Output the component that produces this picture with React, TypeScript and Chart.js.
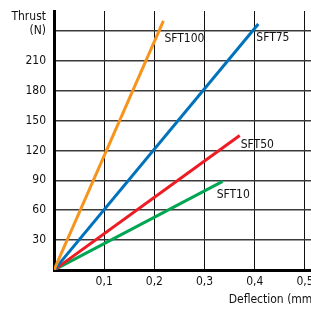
import React, { useEffect, useRef } from "react";
import { Chart, registerables } from "chart.js";

Chart.register(...registerables);

const seriesNames = ["SFT100", "SFT75", "SFT50", "SFT10"];
const seriesColors = ["#F7941D", "#0072BC", "#ED1C24", "#00A651"];
const startDeflection = [0, 0, 0, 0];
const startThrust = [0, 0, 0, 0];
const endDeflection = [0.218, 0.407, 0.37, 0.336];
const endThrust = [250, 247, 135, 89];
const xTickValues = [0, 0.1, 0.2, 0.3, 0.4, 0.5];
const yTickValues = [0, 30, 60, 90, 120, 150, 180, 210, 240];
const yTopLabel = "(N)";
const yTitle = "Thrust";
const xTitle = "Deflection (mm)";

const FONT = "'Liberation Sans Narrow', 'DejaVu Sans Condensed', sans-serif";

// label offsets relative to each line's end point (pixels)
const labelOffsets = [
  [1, 18],
  [-2, 14],
  [1, 9],
  [-6, 14],
];

const textPlugin = {
  id: "texts",
  afterDraw(chart: any) {
    const ctx = chart.ctx;
    const xs = chart.scales.x;
    const ys = chart.scales.y;
    ctx.save();
    ctx.fillStyle = "#111";
    ctx.font = `12px ${FONT}`;
    ctx.textBaseline = "middle";
    ctx.textAlign = "left";
    seriesNames.forEach((n, i) => {
      const px = xs.getPixelForValue(endDeflection[i]);
      const py = ys.getPixelForValue(endThrust[i]);
      ctx.fillText(n, px + labelOffsets[i][0], py + labelOffsets[i][1]);
    });
    ctx.textAlign = "right";
    ctx.fillText(yTitle, chart.chartArea.left - 8, ys.getPixelForValue(240) - 14);
    ctx.textAlign = "left";
    ctx.fillText(xTitle, xs.getPixelForValue(0.348), chart.chartArea.bottom + 30);
    ctx.restore();
  },
};

export default function App() {
  const ref = useRef<HTMLCanvasElement>(null);
  useEffect(() => {
    document.body.style.margin = "0";
    const chart = new Chart(ref.current!, {
      type: "scatter",
      data: {
        datasets: seriesNames.map((n, i) => ({
          label: n,
          data: [
            { x: startDeflection[i], y: startThrust[i] },
            { x: endDeflection[i], y: endThrust[i] },
          ],
          showLine: true,
          borderColor: seriesColors[i],
          backgroundColor: seriesColors[i],
          borderWidth: 3,
          pointRadius: 0,
        })),
      },
      options: {
        animation: false,
        responsive: false,
        devicePixelRatio: 1,
        layout: { padding: { top: 11, right: 0, left: 0, bottom: 0 } },
        plugins: { legend: { display: false }, tooltip: { enabled: false } },
        scales: {
          x: {
            type: "linear",
            min: 0,
            max: 0.512,
            afterBuildTicks: (s: any) => {
              s.ticks = xTickValues.map((v) => ({ value: v }));
            },
            afterFit: (s: any) => {
              s.height = 40;
              s.paddingLeft = 0;
              s.paddingRight = 0;
            },
            grid: { color: "#111", lineWidth: 1, drawTicks: false },
            border: { color: "#000", width: 3 },
            ticks: {
              padding: 5,
              color: "#111",
              font: { family: FONT, size: 12 },
              maxRotation: 0,
              autoSkip: false,
              callback: (v: any) => (v === 0 ? "" : String(v).replace(".", ",")),
            },
          },
          y: {
            type: "linear",
            min: 0,
            max: 260,
            afterBuildTicks: (s: any) => {
              s.ticks = yTickValues.map((v) => ({ value: v }));
            },
            afterFit: (s: any) => {
              s.width = 54;
              s.paddingTop = 0;
              s.paddingBottom = 0;
            },
            grid: { color: "#3a3a3a", lineWidth: 1.5, drawTicks: false },
            border: { color: "#000", width: 3 },
            ticks: {
              padding: 8,
              color: "#111",
              font: { family: FONT, size: 12 },
              autoSkip: false,
              callback: (v: any) => (v === 0 ? "" : v === 240 ? yTopLabel : String(v)),
            },
          },
        },
      },
      plugins: [textPlugin],
    });
    return () => chart.destroy();
  }, []);
  return (
    <div style={{ position: "fixed", left: 0, top: 0, width: 311, height: 310, background: "#fff" }}>
      <canvas ref={ref} width={311} height={310} />
    </div>
  );
}
